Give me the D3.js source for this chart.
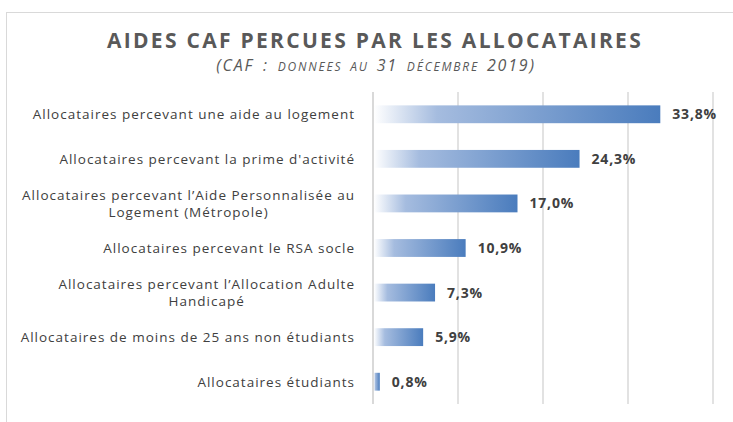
<!DOCTYPE html>
<html>
<head>
<meta charset="utf-8">
<script src="https://cdn.jsdelivr.net/npm/d3@7"></script>
<style>
  body { margin: 0; background: #fff; }
  svg { display: block; font-family: "Open Sans", Lato, sans-serif; }
</style>
</head>
<body>
<div id="chart"></div>
<script>
// Data
const categories = [
    ['Allocataires percevant une aide au logement'],
    ['Allocataires percevant la prime d\'activité'],
    ['Allocataires percevant l\u2019Aide Personnalisée au', 'Logement (Métropole)'],
    ['Allocataires percevant le RSA socle'],
    ['Allocataires percevant l\u2019Allocation Adulte', 'Handicapé'],
    ['Allocataires de moins de 25 ans non étudiants'],
    ['Allocataires étudiants']
];
const values = [33.8, 24.3, 17.0, 10.9, 7.3, 5.9, 0.8];
const xTicks = [0, 10, 20, 30, 40];

const W = 733, H = 422;
const margin = { top: 92, left: 373, right: 20, bottom: 18 };

const svg = d3.select('#chart').append('svg')
    .attr('width', W)
    .attr('height', H);

// outer frame
svg.append('rect')
    .attr('x', 6.5).attr('y', 12.5)
    .attr('width', 740).attr('height', 430)
    .attr('fill', 'none')
    .attr('stroke', '#d9d9d9')
    .attr('stroke-width', 1);

const x = d3.scaleLinear().domain([0, 40]).range([margin.left, 713]);
const y = d3.scaleBand()
    .domain(d3.range(values.length))
    .range([margin.top, 404])
    .paddingInner(0.6)
    .paddingOuter(0.3);

// gradient
const grad = svg.append('defs').append('linearGradient')
    .attr('id', 'barGrad')
    .attr('x1', '0%').attr('x2', '100%').attr('y1', '0%').attr('y2', '0%');
grad.append('stop').attr('offset', '0%').attr('stop-color', '#ffffff');
grad.append('stop').attr('offset', '22%').attr('stop-color', '#a5bcdf');
grad.append('stop').attr('offset', '100%').attr('stop-color', '#4a7cbd');

// gridlines
svg.selectAll('.grid')
    .data(xTicks)
    .enter()
    .append('line')
    .attr('class', 'grid')
    .attr('x1', d => x(d)).attr('x2', d => x(d))
    .attr('y1', margin.top).attr('y2', 404)
    .attr('stroke', '#d9d9d9')
    .attr('stroke-width', d => d === 0 ? 2 : 1.5);

// bars
svg.selectAll('.bar')
    .data(values)
    .enter()
    .append('rect')
    .attr('class', 'bar')
    .attr('x', x(0) + 1)
    .attr('y', (d, i) => y(i))
    .attr('width', d => x(d) - x(0) - 1)
    .attr('height', y.bandwidth())
    .attr('fill', 'url(#barGrad)');

// value labels
svg.selectAll('.value-label')
    .data(values)
    .enter()
    .append('text')
    .attr('class', 'value-label')
    .attr('x', d => x(d) + 12)
    .attr('y', (d, i) => y(i) + y.bandwidth() / 2)
    .attr('dy', '0.36em')
    .attr('fill', '#404040')
    .attr('font-size', 14)
    .attr('font-weight', 'bold')
    .attr('letter-spacing', 0.8)
    .text(d => d.toFixed(1).replace('.', ',') + '%');

// category labels
const catLabels = svg.selectAll('.label')
    .data(categories)
    .enter()
    .append('text')
    .attr('class', 'label')
    .attr('text-anchor', 'end')
    .attr('fill', '#404040')
    .attr('font-size', 13.5)
    .attr('letter-spacing', 1)
    .attr('y', (d, i) => y(i) + y.bandwidth() / 2);

catLabels.selectAll('tspan')
    .data(d => d.map((t, k) => ({ t, k, n: d.length })))
    .enter()
    .append('tspan')
    .attr('x', 355)
    .attr('dy', d => d.k === 0 ? (0.36 - (d.n - 1) * 0.62) + 'em' : '1.24em')
    .text(d => d.t);

// centre second lines under the first line
catLabels.each(function() {
    const spans = d3.select(this).selectAll('tspan').nodes();
    if (spans.length > 1) {
        const first = spans[0].getComputedTextLength();
        d3.select(spans[1])
            .attr('x', 355 - first / 2)
            .attr('text-anchor', 'middle');
    }
});

// title
svg.append('text')
    .attr('x', 375).attr('y', 48)
    .attr('text-anchor', 'middle')
    .attr('fill', '#595959')
    .attr('font-size', 21)
    .attr('font-weight', 'bold')
    .attr('letter-spacing', 2.3)
    .text('AIDES CAF PERCUES PAR LES ALLOCATAIRES');

const sub = svg.append('text')
    .attr('x', 376).attr('y', 71)
    .attr('text-anchor', 'middle')
    .attr('fill', '#595959')
    .attr('font-size', 16)
    .attr('font-style', 'italic')
    .attr('letter-spacing', 1.8)
    .attr('word-spacing', 3);
sub.append('tspan').text('(CAF : ');
sub.append('tspan').attr('font-size', 12).text('DONNEES AU ');
sub.append('tspan').text('31 ');
sub.append('tspan').attr('font-size', 12).text('DÉCEMBRE ');
sub.append('tspan').text('2019)');
</script>
</body>
</html>
